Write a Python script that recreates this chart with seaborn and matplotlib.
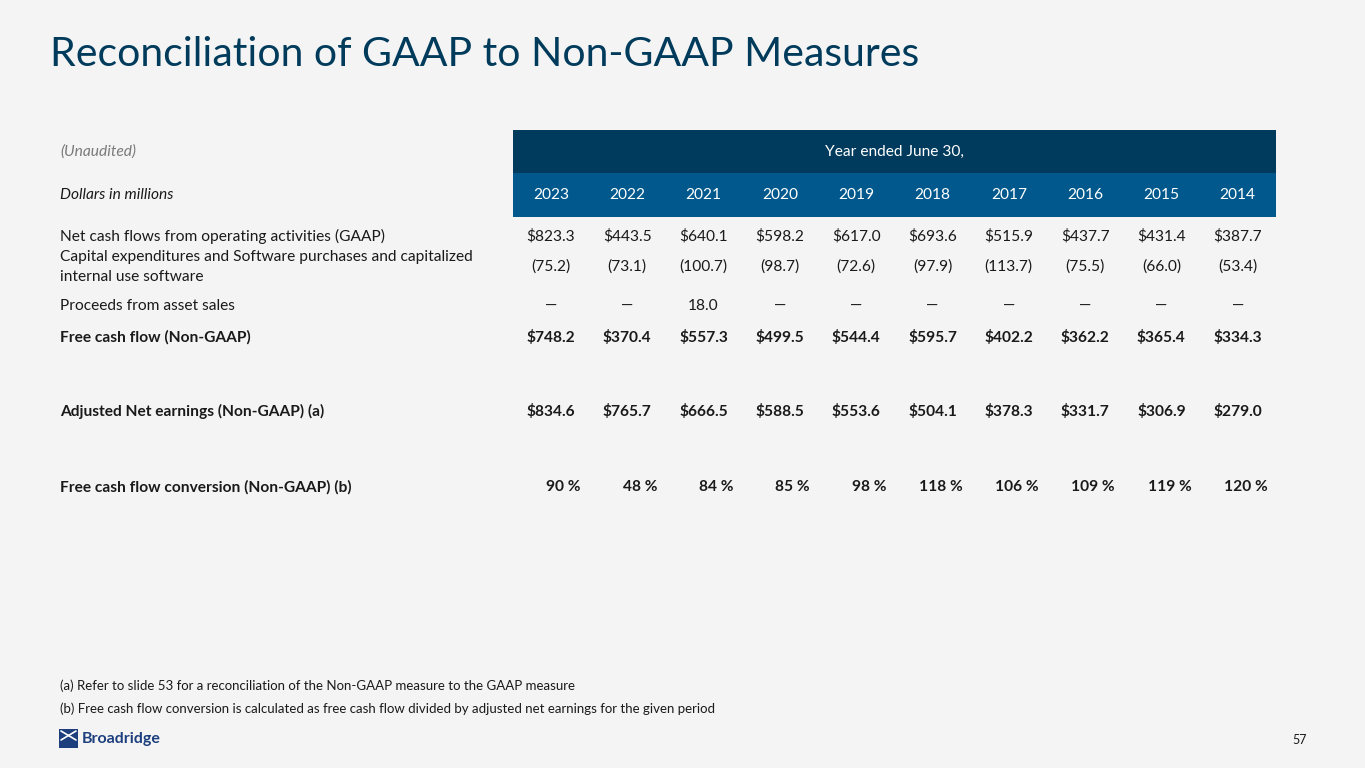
import numpy as np
import pandas as pd
import matplotlib.pyplot as plt
import seaborn as sns
from matplotlib.patches import Rectangle

# Table data (Year ended June 30, dollars in millions)
years = ["2023", "2022", "2021", "2020", "2019", "2018", "2017", "2016", "2015", "2014"]
net_cash = [823.3, 443.5, 640.1, 598.2, 617.0, 693.6, 515.9, 437.7, 431.4, 387.7]
capex = [75.2, 73.1, 100.7, 98.7, 72.6, 97.9, 113.7, 75.5, 66.0, 53.4]
proceeds = [None, None, 18.0, None, None, None, None, None, None, None]
free_cash = [748.2, 370.4, 557.3, 499.5, 544.4, 595.7, 402.2, 362.2, 365.4, 334.3]
adj_net = [834.6, 765.7, 666.5, 588.5, 553.6, 504.1, 378.3, 331.7, 306.9, 279.0]
conversion = [90, 48, 84, 85, 98, 118, 106, 109, 119, 120]

row_labels = [
    "Net cash flows from operating activities (GAAP)",
    "Capital expenditures and Software purchases and capitalized\ninternal use software",
    "Proceeds from asset sales",
    "Free cash flow (Non-GAAP)",
    "Adjusted Net earnings (Non-GAAP) (a)",
    "Free cash flow conversion (Non-GAAP) (b)",
]
footnotes = [
    "(a) Refer to slide 53 for a reconciliation of the Non-GAAP measure to the GAAP measure",
    "(b) Free cash flow conversion is calculated as free cash flow divided by adjusted net earnings for the given period",
]

sns.set_theme(style="white")
plt.rcParams['font.family'] = ['Lato', 'DejaVu Sans']

W, H = 1365, 768
bg = "#f4f4f4"
dark = "#003a5c"
mid = "#00588c"
navy = "#003b5c"
txt = "#1a1a1a"

fig = plt.figure(figsize=(W / 100, H / 100), dpi=100, facecolor=bg)
ax = fig.add_axes([0, 0, 1, 1])
ax.set_xlim(0, W)
ax.set_ylim(H, 0)
ax.axis("off")
ax.set_facecolor(bg)

# column layout
col0, step = 551, 76.3
cols = col0 + step * np.arange(len(years))
left_edge = cols[0] - step / 2
right_edge = cols[-1] + step / 2
label_x = 60
fs = 11.2

# title
ax.text(50, 55, "Reconciliation of GAAP to Non-GAAP Measures", fontsize=29.5,
        color=navy, va="center", ha="left")

# header bands
ax.add_patch(Rectangle((left_edge, 130), right_edge - left_edge, 43, color=dark, lw=0))
ax.add_patch(Rectangle((left_edge, 173), right_edge - left_edge, 44, color=mid, lw=0))
ax.text((left_edge + right_edge) / 2, 152, "Year ended June 30,", color="white",
        fontsize=fs, ha="center", va="center")
for x, y in zip(cols, years):
    ax.text(x, 195, y, color="white", fontsize=fs, ha="center", va="center")

ax.text(label_x, 152, "(Unaudited)", fontsize=fs, style="italic", color="#7a7a7a", va="center")
ax.text(label_x, 195, "Dollars in millions", fontsize=fs, style="italic", color=txt, va="center")

row_y = [236, 267, 306, 337, 411, 487]
bold_rows = [False, False, False, True, True, True]
for lab, y, b in zip(row_labels, row_y, bold_rows):
    ax.text(label_x, y, lab, fontsize=fs, color=txt, va="center",
            fontweight="bold" if b else "normal", linespacing=1.5)

def put_row(values, y, fmt, bold=False):
    for x, v in zip(cols, values):
        ax.text(x, y, fmt(v), fontsize=fs, color=txt, ha="center", va="center",
                fontweight="bold" if bold else "normal")

put_row(net_cash, row_y[0], lambda v: f"${v:.1f}")
put_row(capex, row_y[1], lambda v: f"({v:.1f})")
put_row(proceeds, row_y[2], lambda v: "—" if v is None else f"{v:.1f}")
put_row(free_cash, row_y[3], lambda v: f"${v:.1f}", bold=True)
put_row(adj_net, row_y[4], lambda v: f"${v:.1f}", bold=True)
for x, v in zip(cols, conversion):
    ax.text(x + 30, row_y[5], f"{v} %", fontsize=fs, color=txt, ha="right",
            va="center", fontweight="bold")

# footnotes
ax.text(60, 686, footnotes[0], fontsize=9.5, color=txt, va="center")
ax.text(60, 709, footnotes[1], fontsize=9.5, color=txt, va="center")

# logo
ax.add_patch(Rectangle((59, 729), 19, 19, color="#1d3f7e", lw=0))
ax.plot([61, 76], [731, 740], color="white", lw=1.2)
ax.plot([61, 76], [740, 731], color="white", lw=1.2)
ax.text(82, 739, "Broadridge", fontsize=11.5, fontweight="bold", color="#1d3f7e", va="center")

# page number
ax.text(1307, 740, "57", fontsize=9, color=txt, ha="right", va="center")

fig.savefig("out.png", dpi=100, facecolor=bg)
